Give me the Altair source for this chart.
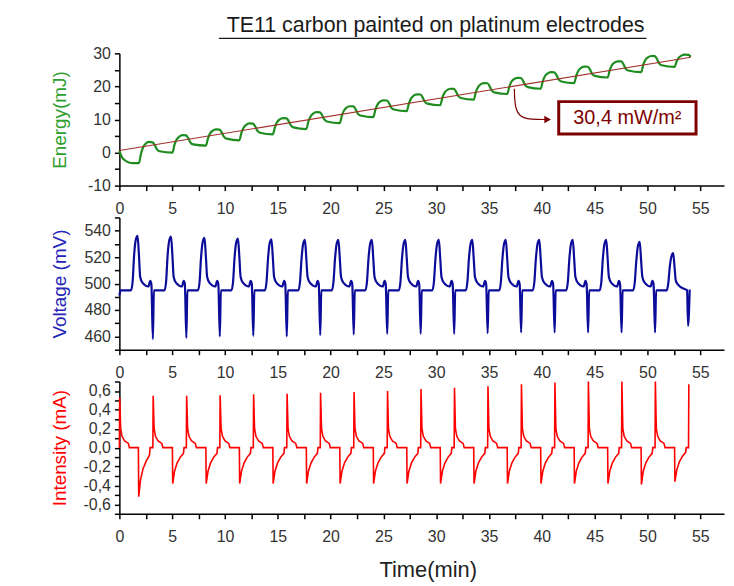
import altair as alt
import pandas as pd

FONT = "Liberation Sans"
TITLE = "TE11 carbon painted on platinum electrodes"
ANNOT = "30,4 mW/m\u00b2"

# Energy (mJ) vs time (min)
energy_points = [
    (0.0, 0.5), (0.25, -1.4), (0.55, -2.4), (0.9, -3.0), (1.3, -3.2),
    (1.85, -3.2), (2.05, -0.3), (2.25, 1.6), (2.5, 2.7), (2.8, 3.2), (3.15, 3.1), (3.35, 2.3), (3.55, 1.0), (3.8, 0.4),
    (5.02, 0.0), (5.22, 2.4), (5.42, 3.9), (5.67, 4.8), (5.97, 5.25), (6.32, 5.2), (6.52, 4.35), (6.72, 3.05), (6.97, 2.45),
    (8.19, 2.1), (8.39, 4.3), (8.59, 5.8), (8.84, 6.6), (9.14, 7.0), (9.49, 6.95), (9.69, 6.1), (9.89, 4.8), (10.14, 4.2),
    (11.36, 3.7), (11.56, 6.0), (11.76, 7.5), (12.01, 8.4), (12.31, 8.8), (12.66, 8.75), (12.86, 7.9), (13.06, 6.6), (13.31, 6.0),
    (14.53, 5.5), (14.73, 7.7), (14.93, 9.2), (15.18, 10.0), (15.48, 10.4), (15.83, 10.35), (16.03, 9.5), (16.23, 8.2), (16.48, 7.6),
    (17.70, 7.1), (17.90, 9.4), (18.10, 10.9), (18.35, 11.8), (18.65, 12.2), (19.00, 12.15), (19.20, 11.3), (19.40, 10.0), (19.65, 9.4),
    (20.87, 8.9), (21.07, 11.2), (21.27, 12.7), (21.52, 13.6), (21.82, 14.0), (22.17, 13.95), (22.37, 13.1), (22.57, 11.8), (22.82, 11.2),
    (24.04, 10.7), (24.24, 13.0), (24.44, 14.5), (24.69, 15.4), (24.99, 15.8), (25.34, 15.75), (25.54, 14.9), (25.74, 13.6), (25.99, 13.0),
    (27.21, 12.5), (27.41, 14.8), (27.61, 16.3), (27.86, 17.2), (28.16, 17.6), (28.51, 17.55), (28.71, 16.7), (28.91, 15.4), (29.16, 14.8),
    (30.38, 14.3), (30.58, 16.55), (30.78, 18.05), (31.03, 18.9), (31.33, 19.3), (31.68, 19.25), (31.88, 18.4), (32.08, 17.1), (32.33, 16.5),
    (33.55, 16.0), (33.75, 18.25), (33.95, 19.75), (34.20, 20.6), (34.50, 21.0), (34.85, 20.95), (35.05, 20.1), (35.25, 18.8), (35.50, 18.2),
    (36.72, 17.7), (36.92, 19.9), (37.12, 21.4), (37.37, 22.2), (37.67, 22.6), (38.02, 22.55), (38.22, 21.7), (38.42, 20.4), (38.67, 19.8),
    (39.89, 19.3), (40.09, 21.55), (40.29, 23.05), (40.54, 23.9), (40.84, 24.3), (41.19, 24.25), (41.39, 23.4), (41.59, 22.1), (41.84, 21.5),
    (43.06, 21.0), (43.26, 23.25), (43.46, 24.75), (43.71, 25.6), (44.01, 26.0), (44.36, 25.95), (44.56, 25.1), (44.76, 23.8), (45.01, 23.2),
    (46.23, 22.7), (46.43, 24.9), (46.63, 26.4), (46.88, 27.2), (47.18, 27.6), (47.53, 27.55), (47.73, 26.7), (47.93, 25.4), (48.18, 24.8),
    (49.40, 24.3), (49.60, 26.5), (49.80, 28.0), (50.05, 28.8), (50.35, 29.2), (50.70, 29.15), (50.90, 28.3), (51.10, 27.0), (51.35, 26.4),
    (52.57, 25.9), (52.77, 27.6), (52.97, 28.7), (53.22, 29.3), (53.52, 29.6), (53.87, 29.55), (54.10, 29.0),
]

# linear fit of the energy curve
fit_points = [(0.0, 0.6), (54.1, 28.8)]

# annotation arrow (from the fit line to the box) and the box
arrow_points = [(37.4, 19.3), (37.42, 16.0), (37.55, 13.0), (37.9, 11.0), (38.6, 10.1), (39.6, 10.0), (40.4, 10.0)]
arrow_head = [(40.55, 10.0)]
box_corners = [(41.6, 5.6, 54.6, 15.4)]
box_label = [(48.1, 10.5)]

# Voltage (mV) vs time (min)
voltage_points = [
    (0.0, 491), (0.12, 494.8), (1.1, 494.8), (1.25, 501), (1.4, 522), (1.55, 533), (1.72, 536), (1.85, 522), (1.97, 505), (2.2, 500.5), (2.75, 497.8), (2.92, 502), (3.03, 499.5),
    (3.17, 458), (3.27, 494.8), (4.27, 494.8), (4.42, 501), (4.57, 521.5), (4.72, 532.5), (4.89, 535.5), (5.02, 521.5), (5.14, 505), (5.37, 500.5), (5.92, 497.8), (6.09, 502), (6.20, 499.5),
    (6.34, 459), (6.44, 494.8), (7.44, 494.8), (7.59, 501), (7.74, 520.5), (7.89, 531.5), (8.06, 534.5), (8.19, 520.5), (8.31, 505), (8.54, 500.5), (9.09, 497.8), (9.26, 502), (9.37, 499.5),
    (9.51, 460), (9.61, 494.8), (10.61, 494.8), (10.76, 501), (10.91, 520), (11.06, 531), (11.23, 534), (11.36, 520), (11.48, 505), (11.71, 500.5), (12.26, 497.8), (12.43, 502), (12.54, 499.5),
    (12.68, 460.5), (12.78, 494.8), (13.78, 494.8), (13.93, 501), (14.08, 519.5), (14.23, 530.5), (14.40, 533.5), (14.53, 519.5), (14.65, 505), (14.88, 500.5), (15.43, 497.8), (15.60, 502), (15.71, 499.5),
    (15.85, 460), (15.95, 494.8), (16.95, 494.8), (17.10, 501), (17.25, 519), (17.40, 530), (17.57, 533), (17.70, 519), (17.82, 505), (18.05, 500.5), (18.60, 497.8), (18.77, 502), (18.88, 499.5),
    (19.02, 461), (19.12, 494.8), (20.12, 494.8), (20.27, 501), (20.42, 519), (20.57, 530), (20.74, 533), (20.87, 519), (20.99, 505), (21.22, 500.5), (21.77, 497.8), (21.94, 502), (22.05, 499.5),
    (22.19, 461.5), (22.29, 494.8), (23.29, 494.8), (23.44, 501), (23.59, 519), (23.74, 530), (23.91, 533), (24.04, 519), (24.16, 505), (24.39, 500.5), (24.94, 497.8), (25.11, 502), (25.22, 499.5),
    (25.36, 462), (25.46, 494.8), (26.46, 494.8), (26.61, 501), (26.76, 519), (26.91, 530), (27.08, 533), (27.21, 519), (27.33, 505), (27.56, 500.5), (28.11, 497.8), (28.28, 502), (28.39, 499.5),
    (28.53, 462), (28.63, 494.8), (29.63, 494.8), (29.78, 501), (29.93, 519), (30.08, 530), (30.25, 533), (30.38, 519), (30.50, 505), (30.73, 500.5), (31.28, 497.8), (31.45, 502), (31.56, 499.5),
    (31.70, 462), (31.80, 494.8), (32.80, 494.8), (32.95, 501), (33.10, 519), (33.25, 530), (33.42, 533), (33.55, 519), (33.67, 505), (33.90, 500.5), (34.45, 497.8), (34.62, 502), (34.73, 499.5),
    (34.87, 462.5), (34.97, 494.8), (35.97, 494.8), (36.12, 501), (36.27, 519), (36.42, 530), (36.59, 533), (36.72, 519), (36.84, 505), (37.07, 500.5), (37.62, 497.8), (37.79, 502), (37.90, 499.5),
    (38.04, 463), (38.14, 494.8), (39.14, 494.8), (39.29, 501), (39.44, 519), (39.59, 530), (39.76, 533), (39.89, 519), (40.01, 505), (40.24, 500.5), (40.79, 497.8), (40.96, 502), (41.07, 499.5),
    (41.21, 463), (41.31, 494.8), (42.31, 494.8), (42.46, 501), (42.61, 519), (42.76, 530), (42.93, 533), (43.06, 519), (43.18, 505), (43.41, 500.5), (43.96, 497.8), (44.13, 502), (44.24, 499.5),
    (44.38, 463), (44.48, 494.8), (45.48, 494.8), (45.63, 501), (45.78, 519), (45.93, 530), (46.10, 533), (46.23, 519), (46.35, 505), (46.58, 500.5), (47.13, 497.8), (47.30, 502), (47.41, 499.5),
    (47.55, 463), (47.65, 494.8), (48.65, 494.8), (48.80, 501), (48.95, 517.5), (49.10, 528.5), (49.27, 531.5), (49.40, 517.5), (49.52, 505), (49.75, 500.5), (50.30, 497.8), (50.47, 502), (50.58, 499.5),
    (50.72, 463), (50.82, 494.8), (51.82, 494.8), (51.97, 500), (52.12, 513), (52.27, 520.5), (52.44, 523), (52.57, 512), (52.69, 502), (52.92, 499), (53.47, 496), (53.75, 495), (53.85, 468), (54.0, 495.5),
]

# Intensity (mA) vs time (min)
current_points = [
    (0.0, 0.0), (0.03, 0.53), (0.12, 0.2), (0.25, 0.12), (0.5, 0.07), (0.85, 0.045), (0.95, 0.0), (1.8, 0.0), (1.83, -0.52), (2.0, -0.34), (2.25, -0.22), (2.55, -0.14), (2.85, -0.08), (2.9, 0.0),
    (3.17, 0.0), (3.2, 0.55), (3.29, 0.2), (3.42, 0.12), (3.67, 0.07), (4.02, 0.045), (4.12, 0.0), (5.02, 0.0), (5.05, -0.38), (5.22, -0.25), (5.47, -0.16), (5.77, -0.10), (6.07, -0.06), (6.12, 0.0),
    (6.34, 0.0), (6.37, 0.55), (6.46, 0.2), (6.59, 0.12), (6.84, 0.07), (7.19, 0.045), (7.29, 0.0), (8.19, 0.0), (8.22, -0.38), (8.39, -0.25), (8.64, -0.16), (8.94, -0.10), (9.24, -0.06), (9.29, 0.0),
    (9.51, 0.0), (9.54, 0.555), (9.63, 0.2), (9.76, 0.12), (10.01, 0.07), (10.36, 0.045), (10.46, 0.0), (11.36, 0.0), (11.39, -0.38), (11.56, -0.25), (11.81, -0.16), (12.11, -0.10), (12.41, -0.06), (12.46, 0.0),
    (12.68, 0.0), (12.71, 0.565), (12.80, 0.2), (12.93, 0.12), (13.18, 0.07), (13.53, 0.045), (13.63, 0.0), (14.53, 0.0), (14.56, -0.38), (14.73, -0.25), (14.98, -0.16), (15.28, -0.10), (15.58, -0.06), (15.63, 0.0),
    (15.85, 0.0), (15.88, 0.57), (15.97, 0.2), (16.10, 0.12), (16.35, 0.07), (16.70, 0.045), (16.80, 0.0), (17.70, 0.0), (17.73, -0.38), (17.90, -0.25), (18.15, -0.16), (18.45, -0.10), (18.75, -0.06), (18.80, 0.0),
    (19.02, 0.0), (19.05, 0.58), (19.14, 0.2), (19.27, 0.12), (19.52, 0.07), (19.87, 0.045), (19.97, 0.0), (20.87, 0.0), (20.90, -0.38), (21.07, -0.25), (21.32, -0.16), (21.62, -0.10), (21.92, -0.06), (21.97, 0.0),
    (22.19, 0.0), (22.22, 0.59), (22.31, 0.2), (22.44, 0.12), (22.69, 0.07), (23.04, 0.045), (23.14, 0.0), (24.04, 0.0), (24.07, -0.38), (24.24, -0.25), (24.49, -0.16), (24.79, -0.10), (25.09, -0.06), (25.14, 0.0),
    (25.36, 0.0), (25.39, 0.60), (25.48, 0.2), (25.61, 0.12), (25.86, 0.07), (26.21, 0.045), (26.31, 0.0), (27.21, 0.0), (27.24, -0.38), (27.41, -0.25), (27.66, -0.16), (27.96, -0.10), (28.26, -0.06), (28.31, 0.0),
    (28.53, 0.0), (28.56, 0.62), (28.65, 0.2), (28.78, 0.12), (29.03, 0.07), (29.38, 0.045), (29.48, 0.0), (30.38, 0.0), (30.41, -0.38), (30.58, -0.25), (30.83, -0.16), (31.13, -0.10), (31.43, -0.06), (31.48, 0.0),
    (31.70, 0.0), (31.73, 0.635), (31.82, 0.2), (31.95, 0.12), (32.20, 0.07), (32.55, 0.045), (32.65, 0.0), (33.55, 0.0), (33.58, -0.38), (33.75, -0.25), (34.00, -0.16), (34.30, -0.10), (34.60, -0.06), (34.65, 0.0),
    (34.87, 0.0), (34.90, 0.65), (34.99, 0.2), (35.12, 0.12), (35.37, 0.07), (35.72, 0.045), (35.82, 0.0), (36.72, 0.0), (36.75, -0.38), (36.92, -0.25), (37.17, -0.16), (37.47, -0.10), (37.77, -0.06), (37.82, 0.0),
    (38.04, 0.0), (38.07, 0.67), (38.16, 0.2), (38.29, 0.12), (38.54, 0.07), (38.89, 0.045), (38.99, 0.0), (39.89, 0.0), (39.92, -0.38), (40.09, -0.25), (40.34, -0.16), (40.64, -0.10), (40.94, -0.06), (40.99, 0.0),
    (41.21, 0.0), (41.24, 0.69), (41.33, 0.2), (41.46, 0.12), (41.71, 0.07), (42.06, 0.045), (42.16, 0.0), (43.06, 0.0), (43.09, -0.38), (43.26, -0.25), (43.51, -0.16), (43.81, -0.10), (44.11, -0.06), (44.16, 0.0),
    (44.38, 0.0), (44.41, 0.70), (44.50, 0.2), (44.63, 0.12), (44.88, 0.07), (45.23, 0.045), (45.33, 0.0), (46.23, 0.0), (46.26, -0.38), (46.43, -0.25), (46.68, -0.16), (46.98, -0.10), (47.28, -0.06), (47.33, 0.0),
    (47.55, 0.0), (47.58, 0.70), (47.67, 0.2), (47.80, 0.12), (48.05, 0.07), (48.40, 0.045), (48.50, 0.0), (49.40, 0.0), (49.43, -0.39), (49.60, -0.25), (49.85, -0.16), (50.15, -0.10), (50.45, -0.06), (50.50, 0.0),
    (50.72, 0.0), (50.75, 0.70), (50.84, 0.2), (50.97, 0.12), (51.22, 0.07), (51.57, 0.045), (51.67, 0.0), (52.57, 0.0), (52.60, -0.36), (52.77, -0.24), (53.02, -0.15), (53.32, -0.09), (53.62, -0.05), (53.67, 0.0),
    (53.89, 0.0), (53.92, 0.67),
]

x_ticks = [0, 2.5, 5, 7.5, 10, 12.5, 15, 17.5, 20, 22.5, 25, 27.5, 30, 32.5, 35, 37.5, 40, 42.5, 45, 47.5, 50, 52.5, 55]
energy_ticks = [-10, -5, 0, 5, 10, 15, 20, 25, 30]
voltage_ticks = [450, 460, 470, 480, 490, 500, 510, 520, 530, 540, 550]
current_ticks = [-0.7, -0.6, -0.5, -0.4, -0.3, -0.2, -0.1, 0.0, 0.1, 0.2, 0.3, 0.4, 0.5, 0.6, 0.7]

GREEN = "#1e8c1e"
GREEN_T = "#2e9e2e"
BLUE = "#0c0c9a"
BLUE_T = "#2424b8"
RED = "#ff0000"
FIT = "#a0302a"
DARKRED = "#7d0000"

W, H = 608, 133


def frame(points, cols=("t", "v")):
    df = pd.DataFrame(points, columns=list(cols))
    df["i"] = range(len(df))
    return df


xscale = alt.Scale(domain=[0, 57.25], nice=False, zero=False)

AXIS_COMMON = dict(
    tickSize=5,
    tickColor="black",
    tickWidth=1.5,
    domainColor="black",
    domainWidth=1.5,
    labelFontSize=16,
    labelColor="#333333",
    labelFont=FONT,
    labelOverlap=False,
    grid=False,
)


def x_axis(title=None):
    kw = dict(
        values=x_ticks,
        labelExpr="datum.value % 5 == 0 ? datum.label : ''",
        labelPadding=10,
        labelFlush=False,
        **AXIS_COMMON,
    )
    if title:
        kw.update(title=title, titleFontSize=22, titleFont=FONT, titleFontWeight="normal",
                  titleColor="#222222", titlePadding=15, titleX=310)
    else:
        kw.update(title=None)
    return alt.Axis(**kw)


def y_axis(title, color, values, label_expr):
    return alt.Axis(
        title=title,
        values=values,
        labelExpr=label_expr,
        labelPadding=4,
        titleFont=FONT,
        titleFontSize=19,
        titleFontWeight="normal",
        titleColor=color,
        titlePadding=10,
        minExtent=40,
        maxExtent=40,
        **AXIS_COMMON,
    )


X = alt.X("t:Q", scale=xscale, axis=x_axis())

# ---------------- Energy panel ----------------
e_scale = alt.Scale(domain=[-10, 30], nice=False, zero=False)
e_axis = y_axis("Energy(mJ)", GREEN_T, energy_ticks,
                "datum.value % 10 == 0 ? ((datum.value < 0 ? '-' : '') + abs(datum.value)) : ''")
EY = alt.Y("v:Q", scale=e_scale, axis=e_axis)

energy_line = alt.Chart(frame(energy_points)).mark_line(
    color=GREEN, strokeWidth=2.2, interpolate="monotone"
).encode(x=X, y=EY, order="i:Q")

fit_line = alt.Chart(frame(fit_points)).mark_line(color=FIT, strokeWidth=1.1).encode(
    x=X, y=EY, order="i:Q")

arrow_line = alt.Chart(frame(arrow_points)).mark_line(
    color=DARKRED, strokeWidth=1.2, interpolate="basis"
).encode(x=X, y=EY, order="i:Q")

arrow_tip = alt.Chart(frame(arrow_head)).mark_point(
    shape="triangle-right", filled=True, color=DARKRED, size=60, opacity=1
).encode(x=X, y=EY)

box = alt.Chart(pd.DataFrame(box_corners, columns=["t", "v", "t2", "v2"])).mark_rect(
    fill="white", stroke=DARKRED, strokeWidth=3
).encode(x=X, x2="t2:Q", y=EY, y2="v2:Q")

box_text = alt.Chart(pd.DataFrame(box_label, columns=["t", "v"])).mark_text(
    text=ANNOT, font=FONT, fontSize=20, color=DARKRED, align="center", baseline="middle"
).encode(x=X, y=EY)

title_text = alt.Chart(pd.DataFrame({"a": [0]})).mark_text(
    text=TITLE, font=FONT, fontSize=21.5, color="#1a1a1a", align="center", baseline="middle"
).encode(x=alt.value(318), y=alt.value(-27))

title_rule = alt.Chart(pd.DataFrame({"a": [0]})).mark_rule(color="#1a1a1a", strokeWidth=1.3).encode(
    x=alt.value(100), x2=alt.value(530), y=alt.value(-15))

energy_panel = alt.layer(
    energy_line, fit_line, arrow_line, arrow_tip, box, box_text, title_text, title_rule
).properties(width=W, height=H)

# ---------------- Voltage panel ----------------
v_scale = alt.Scale(domain=[450, 550], nice=False, zero=False)
v_axis = y_axis("Voltage (mV)", BLUE_T, voltage_ticks,
                "(datum.value - 460) % 20 == 0 ? datum.label : ''")
voltage_panel = alt.Chart(frame(voltage_points)).mark_line(
    color=BLUE, strokeWidth=2.2, interpolate="monotone"
).encode(x=X, y=alt.Y("v:Q", scale=v_scale, axis=v_axis), order="i:Q").properties(width=W, height=H)

# ---------------- Intensity panel ----------------
i_scale = alt.Scale(domain=[-0.7, 0.7], nice=False, zero=False)
i_axis = y_axis(
    "Intensity (mA)", RED, current_ticks,
    "(abs(round(datum.value * 10)) % 2 == 0 && abs(datum.value) < 0.65) ? "
    "((datum.value < -0.01 ? '-' : '') + replace(format(abs(datum.value), '.1f'), '.', ',')) : ''")
current_panel = alt.Chart(frame(current_points)).mark_line(
    color=RED, strokeWidth=1.6
).encode(
    x=alt.X("t:Q", scale=xscale, axis=x_axis("Time(min)")),
    y=alt.Y("v:Q", scale=i_scale, axis=i_axis),
    order="i:Q",
).properties(width=W, height=H)

chart = alt.vconcat(energy_panel, voltage_panel, current_panel, spacing=32, bounds="flush").properties(
    padding={"left": 43, "top": 6, "right": 2, "bottom": 2}, background="white"
).configure_view(strokeWidth=0, stroke="transparent")

chart.save("out.html", embed_options={"renderer": "svg", "actions": False})
